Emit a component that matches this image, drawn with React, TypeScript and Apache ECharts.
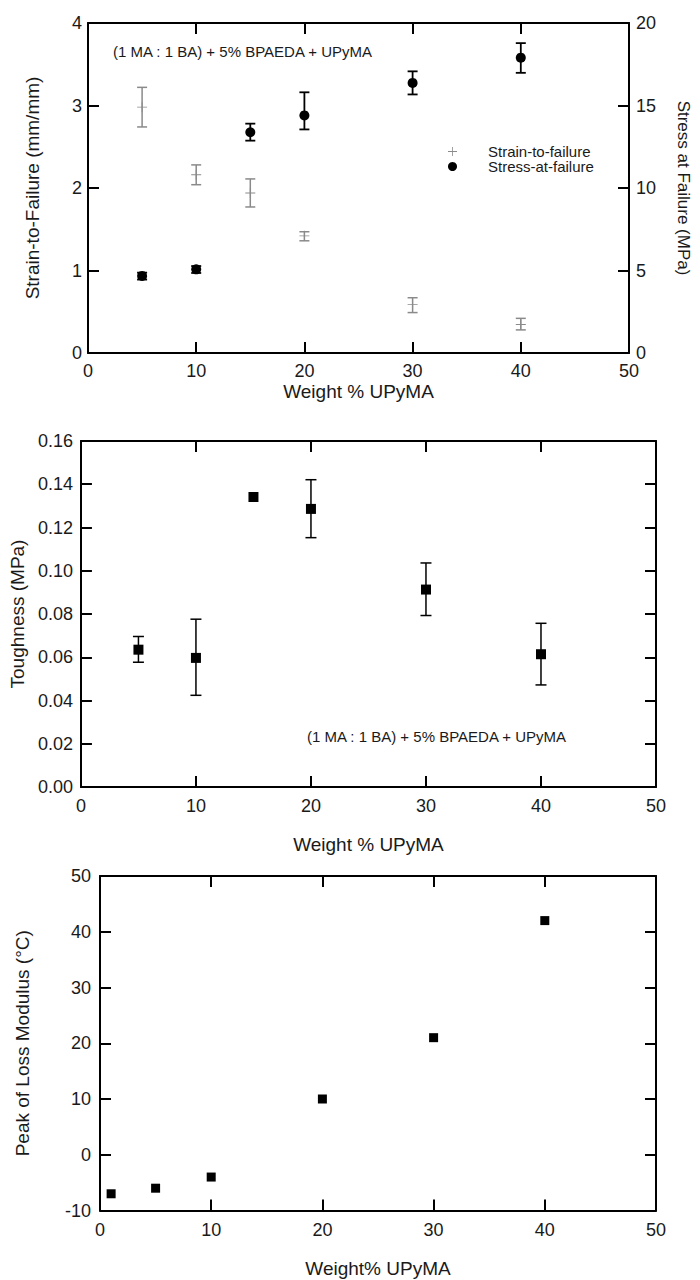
import React, { useEffect, useRef } from "react";
import * as echarts from "echarts";

// ---------- data ----------
const weightPct1 = [5, 10, 15, 20, 30, 40];
const strainValues = [2.98, 2.16, 1.94, 1.42, 0.59, 0.345];
const strainLow = [2.74, 2.04, 1.77, 1.36, 0.49, 0.28];
const strainHigh = [3.22, 2.28, 2.11, 1.47, 0.67, 0.42];
const stressValues = [4.67, 5.07, 13.38, 14.4, 16.37, 17.9];
const stressLow = [4.45, 4.85, 12.87, 13.55, 15.67, 16.98];
const stressHigh = [4.87, 5.27, 13.9, 15.8, 17.07, 18.78];

const weightPct2 = [5, 10, 15, 20, 30, 40];
const toughnessValues = [0.0635, 0.0597, 0.1341, 0.1286, 0.0913, 0.0614];
const toughnessLow = [0.0577, 0.0424, 0.1341, 0.1153, 0.0793, 0.0472];
const toughnessHigh = [0.0696, 0.0776, 0.1341, 0.1421, 0.1036, 0.0757];

const weightPct3 = [1, 5, 10, 20, 30, 40];
const lossPeakValues = [-7, -6, -4, 10, 21, 42];

const annotationText = "(1 MA : 1 BA) + 5% BPAEDA + UPyMA";

// ---------- helpers ----------
const FONT = "'Liberation Sans', Arial, sans-serif";
const TEXT = "#1a1a1a";
const GRAY = "#8a8a8a";

function zip(xs: number[], ys: number[]) {
  return xs.map((x, i) => [x, ys[i]]);
}
function zip3(xs: number[], a: number[], b: number[]) {
  return xs.map((x, i) => [x, a[i], b[i]]);
}

const line = { show: true, onZero: false, lineStyle: { color: "#000", width: 2 } };
const tick = { show: true, inside: true, length: 11, lineStyle: { color: "#000", width: 2 } };

function xAxisPair(gridIndex: number, name: string, nameGap: number, margin: number) {
  const base = {
    type: "value",
    gridIndex,
    min: 0,
    max: 50,
    interval: 10,
    axisLine: line,
    axisTick: tick,
    splitLine: { show: false },
  };
  return [
    {
      ...base,
      position: "bottom",
      axisLabel: { show: true, margin, fontSize: 18, color: TEXT, fontFamily: FONT },
      name,
      nameLocation: "middle",
      nameGap,
      nameTextStyle: { fontSize: 19, color: TEXT, fontFamily: FONT },
    },
    { ...base, position: "top", axisLabel: { show: false } },
  ];
}

function errorBars(color: string, capHalf: number, width: number) {
  return (params: any, api: any) => {
    const x = api.value(0);
    const lo = api.value(1);
    const hi = api.value(2);
    if (lo === hi) return { type: "group", children: [] };
    const p1 = api.coord([x, lo]);
    const p2 = api.coord([x, hi]);
    const style = { stroke: color, lineWidth: width };
    return {
      type: "group",
      children: [
        { type: "line", shape: { x1: p1[0], y1: p1[1], x2: p2[0], y2: p2[1] }, style },
        { type: "line", shape: { x1: p1[0] - capHalf, y1: p1[1], x2: p1[0] + capHalf, y2: p1[1] }, style },
        { type: "line", shape: { x1: p2[0] - capHalf, y1: p2[1], x2: p2[0] + capHalf, y2: p2[1] }, style },
      ],
    };
  };
}

const PLUS = "path://M0,4.55H10V5.45H0Z M4.55,0H5.45V10H4.55Z";

export default function App() {
  const ref = useRef<HTMLDivElement>(null);

  useEffect(() => {
    document.body.style.margin = "0";
    if (!ref.current) return;
    const chart = echarts.init(ref.current, undefined, { renderer: "svg" });

    const option: any = {
      animation: false,
      backgroundColor: "#fff",
      textStyle: { fontFamily: FONT },
      grid: [
        { left: 88, top: 23, width: 551, height: 330 },
        { left: 78, top: 441, width: 578, height: 346 },
        { left: 100, top: 876, width: 556, height: 334.5 },
      ],
      xAxis: [
        ...xAxisPair(0, "Weight % UPyMA", 29, 9),
        ...xAxisPair(1, "Weight % UPyMA", 48, 10),
        ...xAxisPair(2, "Weight% UPyMA", 48, 10),
      ],
      yAxis: [
        {
          type: "value", gridIndex: 0, position: "left", min: 0, max: 4, interval: 1,
          axisLine: line, axisTick: tick, splitLine: { show: false },
          axisLabel: { margin: 6, fontSize: 18, color: TEXT, fontFamily: FONT },
          name: "Strain-to-Failure (mm/mm)", nameLocation: "middle", nameGap: 46,
          nameTextStyle: { fontSize: 19, color: TEXT, fontFamily: FONT },
        },
        {
          type: "value", gridIndex: 0, position: "right", min: 0, max: 20, interval: 5,
          axisLine: line, axisTick: tick, splitLine: { show: false },
          axisLabel: { margin: 7, fontSize: 18, color: TEXT, fontFamily: FONT },
          name: "Stress at Failure (MPa)", nameLocation: "middle", nameGap: 46, nameRotate: -90,
          nameTextStyle: { fontSize: 17, color: TEXT, fontFamily: FONT },
        },
        {
          type: "value", gridIndex: 1, position: "left", min: 0, max: 0.16, interval: 0.02,
          axisLine: line, axisTick: tick, splitLine: { show: false },
          axisLabel: {
            margin: 8, fontSize: 18, color: TEXT, fontFamily: FONT,
            formatter: (v: number) => v.toFixed(2),
          },
          name: "Toughness (MPa)", nameLocation: "middle", nameGap: 47,
          nameTextStyle: { fontSize: 19, color: TEXT, fontFamily: FONT },
        },
        {
          type: "value", gridIndex: 1, position: "right", min: 0, max: 0.16, interval: 0.02,
          axisLine: line, axisTick: tick, splitLine: { show: false }, axisLabel: { show: false },
        },
        {
          type: "value", gridIndex: 2, position: "left", min: -10, max: 50, interval: 10,
          axisLine: line, axisTick: tick, splitLine: { show: false },
          axisLabel: { margin: 9, fontSize: 18, color: TEXT, fontFamily: FONT },
          name: "Peak of Loss Modulus (°C)", nameLocation: "middle", nameGap: 68,
          nameTextStyle: { fontSize: 19, color: TEXT, fontFamily: FONT },
        },
        {
          type: "value", gridIndex: 2, position: "right", min: -10, max: 50, interval: 10,
          axisLine: line, axisTick: tick, splitLine: { show: false }, axisLabel: { show: false },
        },
      ],
      legend: {
        orient: "vertical",
        left: 443,
        top: 139,
        itemWidth: 9,
        itemHeight: 9,
        itemGap: 0,
        textStyle: {
          fontSize: 15, lineHeight: 15, color: TEXT, fontFamily: FONT,
          padding: [0, 0, 0, 26],
        },
        data: [
          { name: "Strain-to-failure", icon: PLUS, itemStyle: { color: GRAY, opacity: 1 } },
          { name: "Stress-at-failure", icon: "circle", itemStyle: { color: "#000", opacity: 1 } },
        ],
      },
      graphic: [
        {
          type: "text", left: 113, top: 44,
          style: { text: annotationText, fontSize: 15, fill: TEXT, fontFamily: FONT },
        },
        {
          type: "text", left: 307, top: 729,
          style: { text: annotationText, fontSize: 15, fill: TEXT, fontFamily: FONT },
        },
      ],
      series: [
        {
          name: "Strain error",
          type: "custom",
          xAxisIndex: 0, yAxisIndex: 0,
          renderItem: errorBars(GRAY, 5, 1.5),
          data: zip3(weightPct1, strainLow, strainHigh),
          silent: true,
          z: 2,
        },
        {
          name: "Strain-to-failure",
          type: "scatter",
          xAxisIndex: 0, yAxisIndex: 0,
          symbol: PLUS,
          symbolSize: 10,
          itemStyle: { color: GRAY, opacity: 1 },
          data: zip(weightPct1, strainValues),
          z: 3,
        },
        {
          name: "Stress error",
          type: "custom",
          xAxisIndex: 0, yAxisIndex: 1,
          renderItem: errorBars("#000", 5, 1.8),
          data: zip3(weightPct1, stressLow, stressHigh),
          silent: true,
          z: 2,
        },
        {
          name: "Stress-at-failure",
          type: "scatter",
          xAxisIndex: 0, yAxisIndex: 1,
          symbol: "circle",
          symbolSize: 10,
          itemStyle: { color: "#000", opacity: 1 },
          data: zip(weightPct1, stressValues),
          z: 3,
        },
        {
          name: "Toughness error",
          type: "custom",
          xAxisIndex: 2, yAxisIndex: 2,
          renderItem: errorBars("#000", 5.5, 1.5),
          data: zip3(weightPct2, toughnessLow, toughnessHigh),
          silent: true,
          z: 2,
        },
        {
          name: "Toughness",
          type: "scatter",
          xAxisIndex: 2, yAxisIndex: 2,
          symbol: "rect",
          symbolSize: 10,
          itemStyle: { color: "#000", opacity: 1 },
          data: zip(weightPct2, toughnessValues),
          z: 3,
        },
        {
          name: "Peak of Loss Modulus",
          type: "scatter",
          xAxisIndex: 4, yAxisIndex: 4,
          symbol: "rect",
          symbolSize: 9,
          itemStyle: { color: "#000", opacity: 1 },
          data: zip(weightPct3, lossPeakValues),
          z: 3,
        },
      ],
    };

    chart.setOption(option);
    return () => chart.dispose();
  }, []);

  return <div ref={ref} style={{ width: 700, height: 1280 }} />;
}
